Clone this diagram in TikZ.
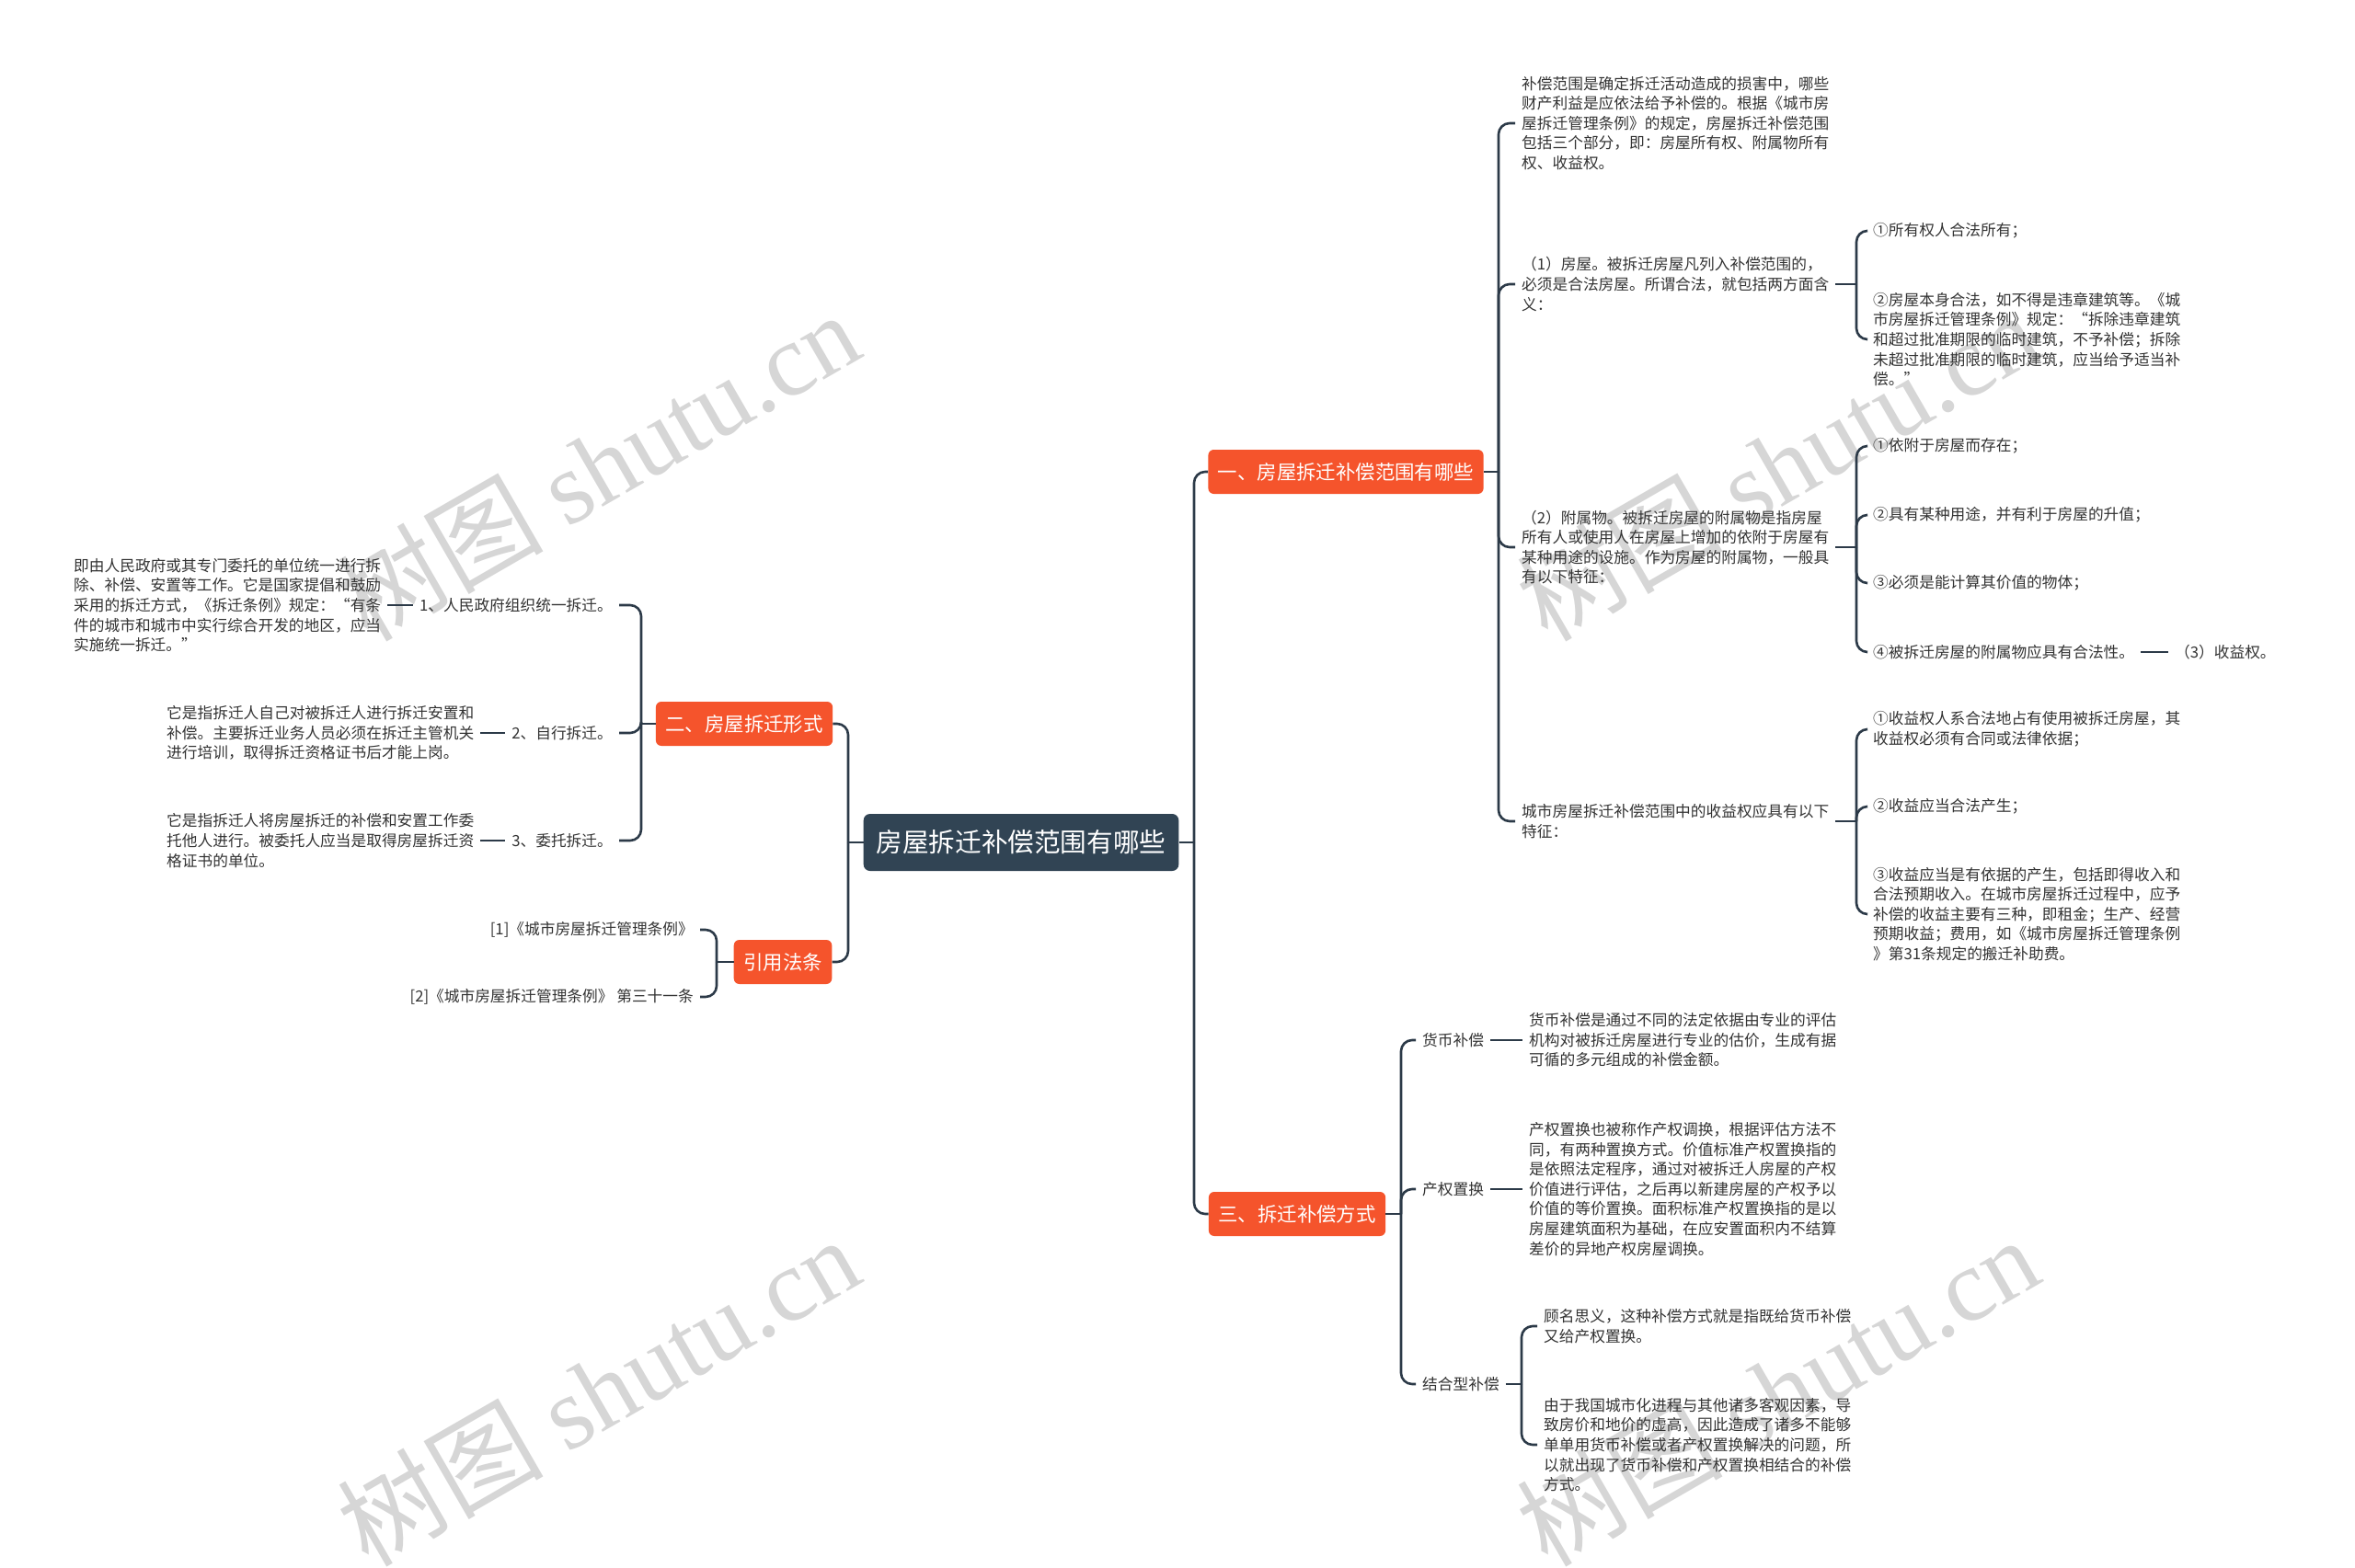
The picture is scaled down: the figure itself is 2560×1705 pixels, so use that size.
\documentclass[tikz,border=0pt]{standalone}
\usepackage{fontspec}
\setmainfont{Noto Sans CJK SC}
\newfontfamily\wmlatin{Liberation Serif}
\usepackage{tikz}
\usetikzlibrary{calc}
\definecolor{orangebox}{RGB}{245,84,44}
\definecolor{rootbox}{RGB}{49,68,84}
\definecolor{linecol}{RGB}{44,58,72}
\definecolor{txtcol}{RGB}{51,51,51}
\definecolor{wmcol}{RGB}{214,214,214}
\tikzset{
  rootnode/.style={fill=rootbox, text=white, rounded corners=7pt, inner xsep=14pt, minimum height=62pt, font=\fontsize{28.6}{34}\selectfont},
  topic/.style={fill=orangebox, text=white, rounded corners=6pt, inner xsep=10.5pt, minimum height=48pt, font=\fontsize{21.4}{26}\selectfont},
  leaf/.style={text=txtcol, align=left, inner xsep=7pt, inner ysep=2pt, font=\fontsize{16.7}{21.6}\selectfont},
  link/.style={draw=linecol, line width=2.6pt, rounded corners=12pt},
  wmark/.style={text=wmcol, rotate=30, font=\fontsize{112}{112}\selectfont}
}

\begin{document}
\begin{tikzpicture}[x=1pt,y=-1pt]
\fill[white] (0,0) rectangle (2560,1705);
\useasboundingbox (0,0) rectangle (2560,1705);

\coordinate[] (jR) at (1298,916);
\coordinate[] (jL) at (922,916);
\coordinate[] (jOne) at (1629,513);
\coordinate[] (jHouse) at (2018,309);
\coordinate[] (jAttach) at (2018,595);
\coordinate[] (jIncome) at (2018,893);
\coordinate[] (jThree) at (1523,1320);
\coordinate[] (jMix) at (1654,1505);
\coordinate[] (jTwo) at (697,787);
\coordinate[] (jCite) at (779,1046);

\node[wmark] (wm1) at (650,506) {树图 {\wmlatin shutu.cn}};
\node[wmark] (wm2) at (1932,506) {树图 {\wmlatin shutu.cn}};
\node[wmark] (wm3) at (650,1512) {树图 {\wmlatin shutu.cn}};
\node[wmark] (wm4) at (1932,1512) {树图 {\wmlatin shutu.cn}};

\node[rootnode] (root) at (1110,916) {房屋拆迁补偿范围有哪些};
\node[topic] (one) at (1463,513) {一、房屋拆迁补偿范围有哪些};
\node[topic] (three) at (1410,1320) {三、拆迁补偿方式};
\node[topic] (two) at (809,787) {二、房屋拆迁形式};
\node[topic] (cite) at (851,1046) {引用法条};

\node[leaf, anchor=west] (scope) at (1647,134) {补偿范围是确定拆迁活动造成的损害中，哪些\\财产利益是应依法给予补偿的。根据《城市房\\屋拆迁管理条例》的规定，房屋拆迁补偿范围\\包括三个部分，即：房屋所有权、附属物所有\\权、收益权。};
\node[leaf, anchor=west] (house) at (1647,309) {（1）房屋。被拆迁房屋凡列入补偿范围的，\\必须是合法房屋。所谓合法，就包括两方面含\\义：};
\node[leaf, anchor=west] (houseA) at (2029,251) {①所有权人合法所有；};
\node[leaf, anchor=west] (houseB) at (2029,369) {②房屋本身合法，如不得是违章建筑等。《城\\市房屋拆迁管理条例》规定：“拆除违章建筑\\和超过批准期限的临时建筑，不予补偿；拆除\\未超过批准期限的临时建筑，应当给予适当补\\偿。”};
\node[leaf, anchor=west] (attach) at (1647,595) {（2）附属物。被拆迁房屋的附属物是指房屋\\所有人或使用人在房屋上增加的依附于房屋有\\某种用途的设施。作为房屋的附属物，一般具\\有以下特征：};
\node[leaf, anchor=west] (attachA) at (2029,485) {①依附于房屋而存在；};
\node[leaf, anchor=west] (attachB) at (2029,560) {②具有某种用途，并有利于房屋的升值；};
\node[leaf, anchor=west] (attachC) at (2029,634) {③必须是能计算其价值的物体；};
\node[leaf, anchor=west] (attachD) at (2029,709) {④被拆迁房屋的附属物应具有合法性。};
\node[leaf, anchor=west] (incomeRight) at (2357,709) {（3）收益权。};
\node[leaf, anchor=west] (income) at (1647,893) {城市房屋拆迁补偿范围中的收益权应具有以下\\特征：};
\node[leaf, anchor=west] (incomeA) at (2029,793) {①收益权人系合法地占有使用被拆迁房屋，其\\收益权必须有合同或法律依据；};
\node[leaf, anchor=west] (incomeB) at (2029,877) {②收益应当合法产生；};
\node[leaf, anchor=west] (incomeC) at (2029,994) {③收益应当是有依据的产生，包括即得收入和\\合法预期收入。在城市房屋拆迁过程中，应予\\补偿的收益主要有三种，即租金；生产、经营\\预期收益；费用，如《城市房屋拆迁管理条例\\》第31条规定的搬迁补助费。};

\node[leaf, anchor=west] (money) at (1539,1131) {货币补偿};
\node[leaf, anchor=west] (moneyText) at (1655,1131) {货币补偿是通过不同的法定依据由专业的评估\\机构对被拆迁房屋进行专业的估价，生成有据\\可循的多元组成的补偿金额。};
\node[leaf, anchor=west] (swap) at (1539,1293) {产权置换};
\node[leaf, anchor=west] (swapText) at (1655,1293) {产权置换也被称作产权调换，根据评估方法不\\同，有两种置换方式。价值标准产权置换指的\\是依照法定程序，通过对被拆迁人房屋的产权\\价值进行评估，之后再以新建房屋的产权予以\\价值的等价置换。面积标准产权置换指的是以\\房屋建筑面积为基础，在应安置面积内不结算\\差价的异地产权房屋调换。};
\node[leaf, anchor=west] (mix) at (1539,1505) {结合型补偿};
\node[leaf, anchor=west] (mixA) at (1671,1442) {顾名思义，这种补偿方式就是指既给货币补偿\\又给产权置换。};
\node[leaf, anchor=west] (mixB) at (1671,1571) {由于我国城市化进程与其他诸多客观因素，导\\致房价和地价的虚高，因此造成了诸多不能够\\单单用货币补偿或者产权置换解决的问题，所\\以就出现了货币补偿和产权置换相结合的补偿\\方式。};

\node[leaf, anchor=east] (unified) at (673,658) {1、人民政府组织统一拆迁。};
\node[leaf, anchor=west] (unifiedText) at (73,658) {即由人民政府或其专门委托的单位统一进行拆\\除、补偿、安置等工作。它是国家提倡和鼓励\\采用的拆迁方式，《拆迁条例》规定：“有条\\件的城市和城市中实行综合开发的地区，应当\\实施统一拆迁。”};
\node[leaf, anchor=east] (self) at (673,797) {2、自行拆迁。};
\node[leaf, anchor=west] (selfText) at (174,797) {它是指拆迁人自己对被拆迁人进行拆迁安置和\\补偿。主要拆迁业务人员必须在拆迁主管机关\\进行培训，取得拆迁资格证书后才能上岗。};
\node[leaf, anchor=east] (entrust) at (673,914) {3、委托拆迁。};
\node[leaf, anchor=west] (entrustText) at (174,914) {它是指拆迁人将房屋拆迁的补偿和安置工作委\\托他人进行。被委托人应当是取得房屋拆迁资\\格证书的单位。};

\node[leaf, anchor=east, align=right] (law1) at (761,1011) {[1]《城市房屋拆迁管理条例》};
\node[leaf, anchor=east, align=right] (law2) at (761,1084) {[2]《城市房屋拆迁管理条例》 第三十一条};

\draw[link] (root.east) -- (jR);
\draw[link] (jR) |- (one.west);
\draw[link] (jR) |- (three.west);
\draw[link] (root.west) -- (jL);
\draw[link] (jL) |- (two.east);
\draw[link] (jL) |- (cite.east);

\draw[link] (one.east) -- (jOne);
\draw[link] (jOne) |- (scope.west);
\draw[link] (jOne) |- (house.west);
\draw[link] (jOne) |- (attach.west);
\draw[link] (jOne) |- (income.west);
\draw[link] (house.east) -- (jHouse);
\draw[link] (jHouse) |- (houseA.west);
\draw[link] (jHouse) |- (houseB.west);
\draw[link] (attach.east) -- (jAttach);
\draw[link] (jAttach) |- (attachA.west);
\draw[link] (jAttach) |- (attachB.west);
\draw[link] (jAttach) |- (attachC.west);
\draw[link] (jAttach) |- (attachD.west);
\draw[link] (attachD.east) -- (incomeRight.west);
\draw[link] (income.east) -- (jIncome);
\draw[link] (jIncome) |- (incomeA.west);
\draw[link] (jIncome) |- (incomeB.west);
\draw[link] (jIncome) |- (incomeC.west);

\draw[link] (three.east) -- (jThree);
\draw[link] (jThree) |- (money.west);
\draw[link] (jThree) |- (swap.west);
\draw[link] (jThree) |- (mix.west);
\draw[link] (money.east) -- (moneyText.west);
\draw[link] (swap.east) -- (swapText.west);
\draw[link] (mix.east) -- (jMix);
\draw[link] (jMix) |- (mixA.west);
\draw[link] (jMix) |- (mixB.west);

\draw[link] (two.west) -- (jTwo);
\draw[link] (jTwo) |- (unified.east);
\draw[link] (jTwo) |- (self.east);
\draw[link] (jTwo) |- (entrust.east);
\draw[link] (unifiedText.east) -- (unified.west);
\draw[link] (selfText.east) -- (self.west);
\draw[link] (entrustText.east) -- (entrust.west);
\draw[link] (cite.west) -- (jCite);
\draw[link] (jCite) |- (law1.east);
\draw[link] (jCite) |- (law2.east);

\end{tikzpicture}
\end{document}
